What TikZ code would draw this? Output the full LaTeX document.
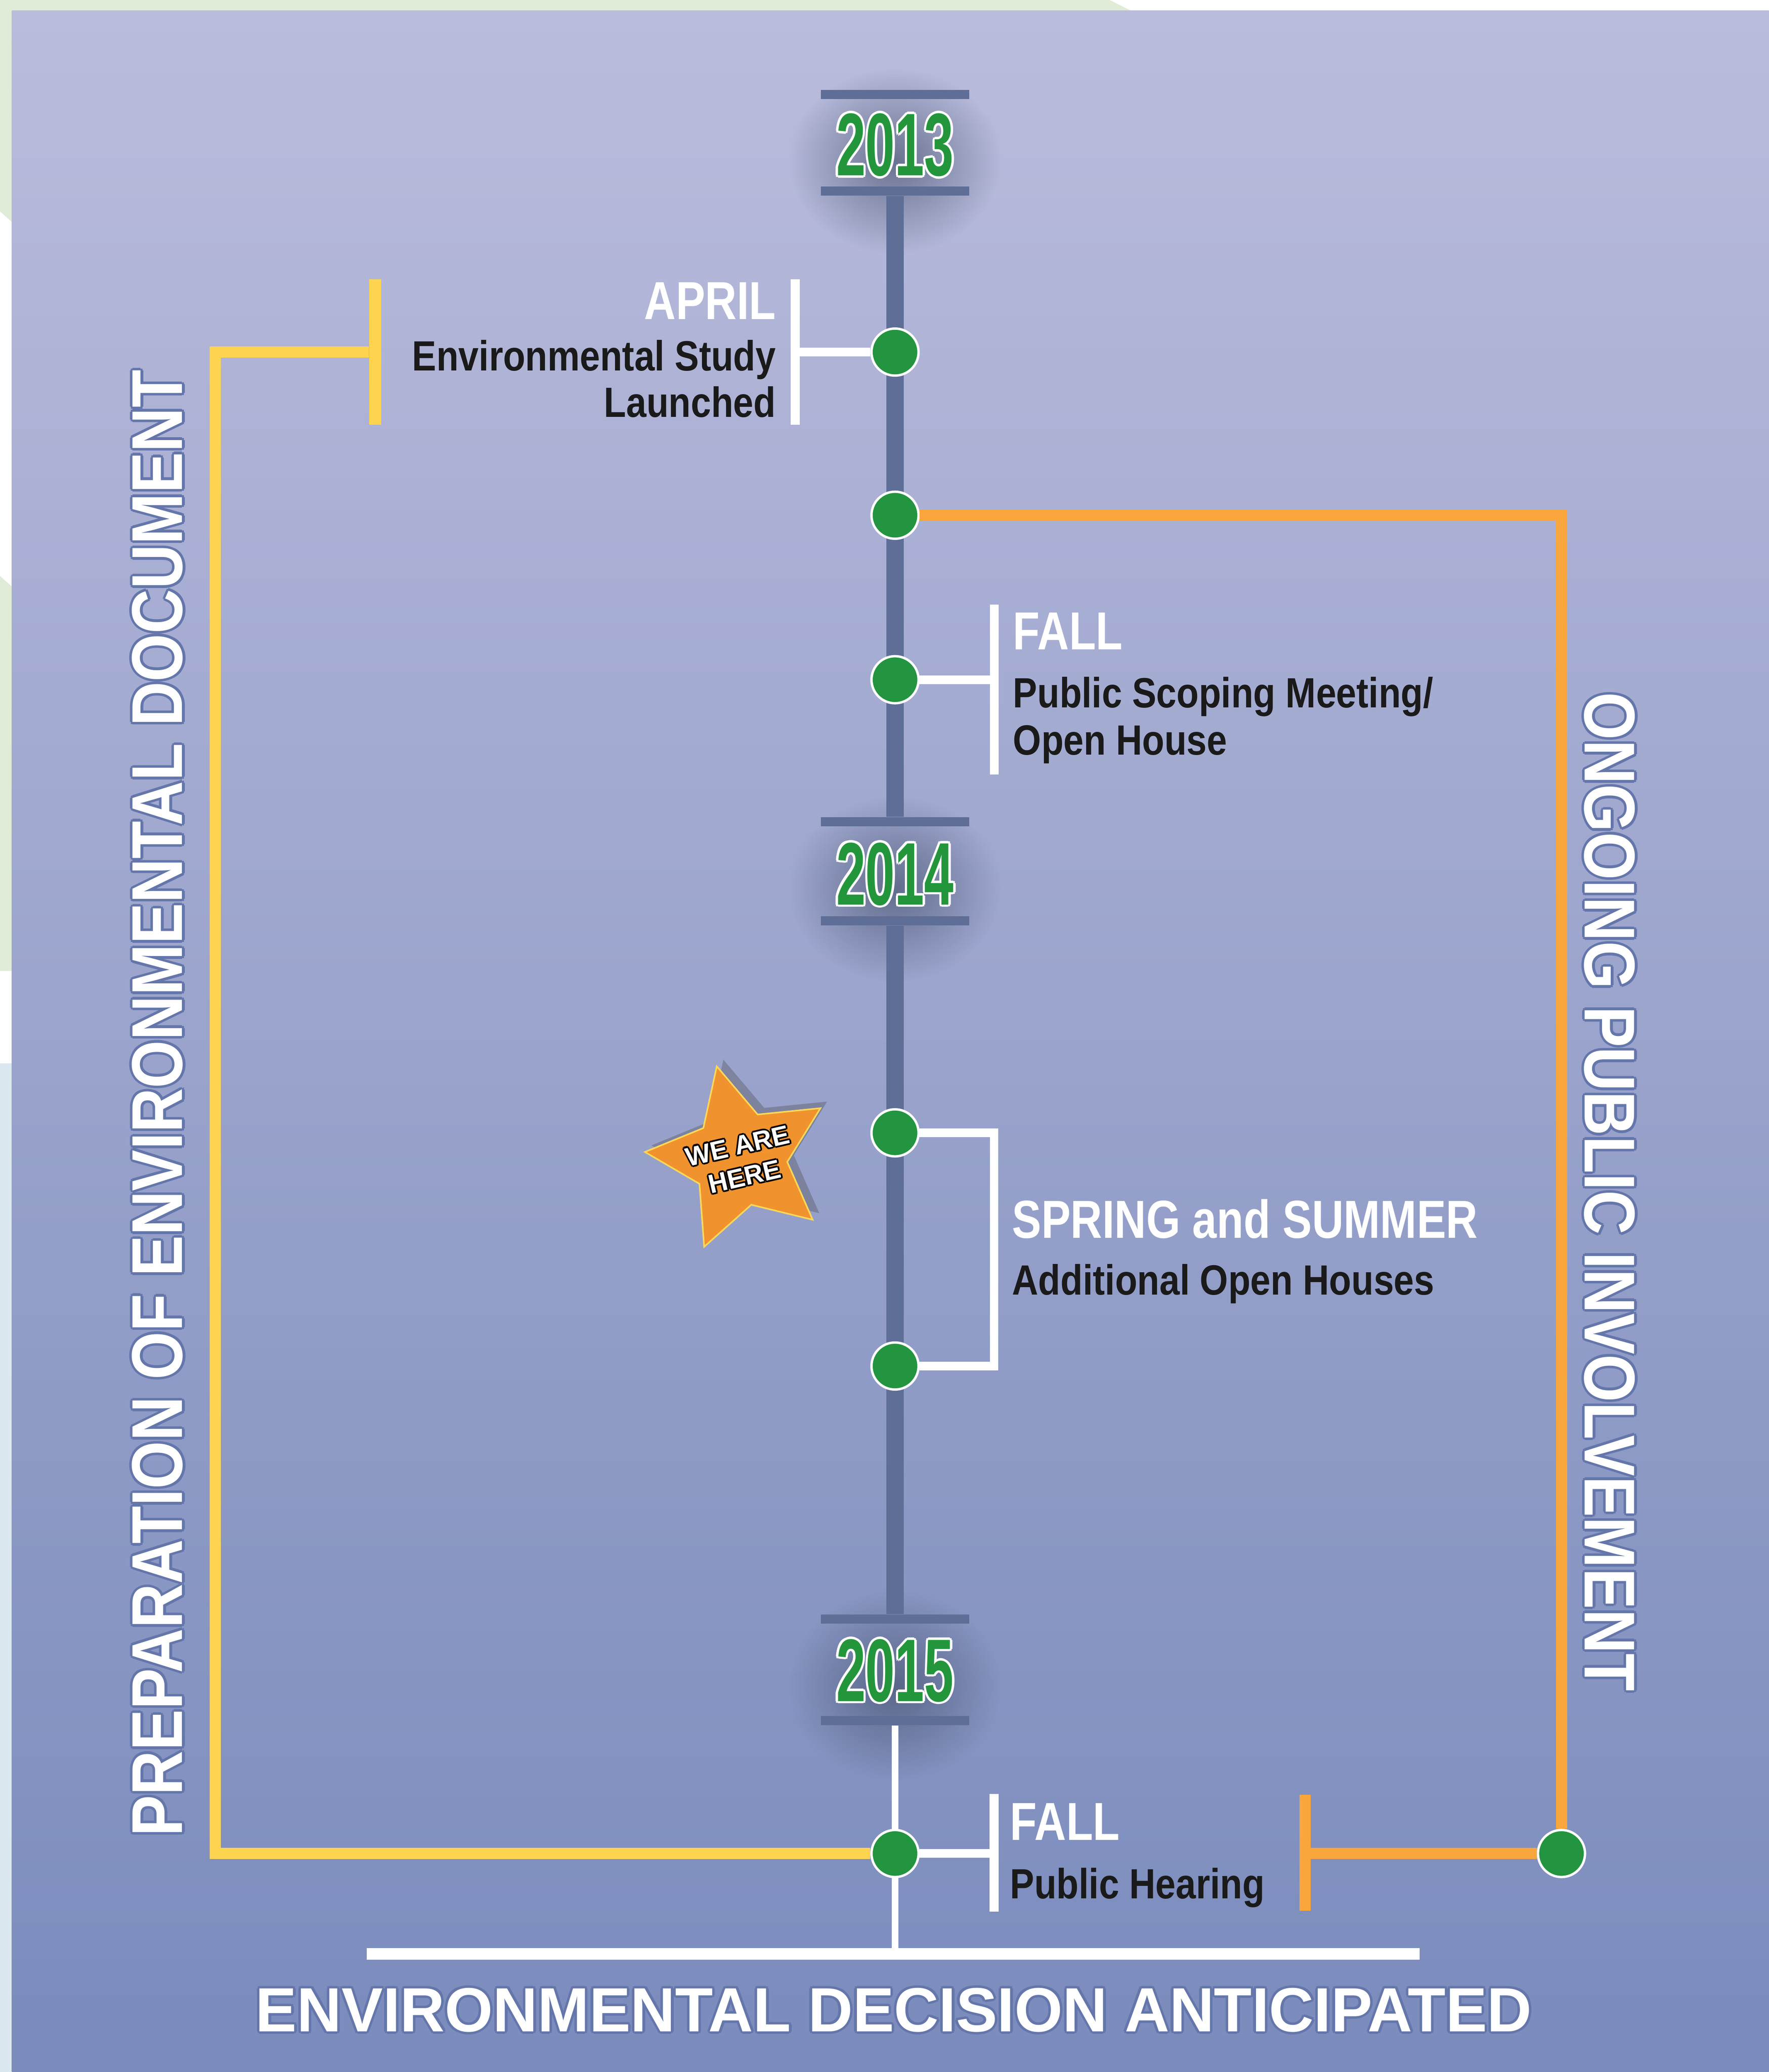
\documentclass[tikz,border=0pt]{standalone}
\usepackage{fontspec}
\setmainfont{Liberation Sans}
\newfontfamily\bodyfont[FakeStretch=0.86]{Liberation Sans}
\newfontfamily\headfont[FakeStretch=0.82]{Liberation Sans}
\newfontfamily\yearfont[FakeStretch=0.62]{Liberation Sans}
\usepackage{graphicx}
\usetikzlibrary{shadows,fadings}

\definecolor{paneltop}{RGB}{186,188,220}
\definecolor{panelbot}{RGB}{122,139,188}
\definecolor{palegreen}{RGB}{224,236,216}
\definecolor{paleblue}{RGB}{220,232,240}
\definecolor{tlblue}{RGB}{94,110,150}
\definecolor{dotgreen}{RGB}{35,148,64}
\definecolor{yeargreen}{RGB}{35,150,60}
\definecolor{docyellow}{RGB}{253,212,80}
\definecolor{pubyellow}{RGB}{249,166,60}
\definecolor{titleedge}{RGB}{100,118,170}
\definecolor{starfill}{RGB}{240,146,45}
\definecolor{staredge}{RGB}{250,215,90}
\definecolor{txtblack}{RGB}{26,26,26}

\tikzfading[name=glowfade, inner color=transparent!35, outer color=transparent!100]

% text with an edge round it: [edge width]{edge colour}{fill colour}{text}
\newlength\olw
\newcommand\outlined[4][1.5pt]{\leavevmode\setlength\olw{#1}%
  \foreach \ox/\oy in {1/0,-1/0,0/1,0/-1,.71/.71,.71/-.71,-.71/.71,-.71/-.71}{%
    \rlap{\color{#2}\kern\ox\olw\raise\oy\olw\hbox{#4}}}%
  {\color{#3}#4}}

\tikzset{
  dot/.style={circle, fill=dotgreen, draw=white, line width=1.8pt, minimum size=35.6pt, inner sep=0pt},
  tick/.style={rectangle, fill=tlblue, minimum width=112.4pt, minimum height=7pt, inner sep=0pt},
  wbar/.style={rectangle, fill=white, minimum width=6.7pt, inner sep=0pt},
  tline/.style={draw=tlblue, line width=13.4pt},
  wline/.style={draw=white, line width=6.5pt},
  yline/.style={draw=docyellow, line width=8.5pt},
  oline/.style={draw=pubyellow, line width=8.5pt},
  head/.style={text=white, inner sep=0pt, font={\headfont\fontsize{40.5}{42}\selectfont\bfseries}},
  body/.style={text=txtblack, inner sep=0pt, font={\bodyfont\fontsize{32}{35}\selectfont\bfseries}},
  glow/.style={fill=tlblue!70!black, path fading=glowfade},
}

\begin{document}
\begin{tikzpicture}[x=1pt,y=1pt,yscale=-1,xscale=1]
\useasboundingbox (0,0) rectangle (1339,1568.4);

%Shape: Background
\fill[white] (0,0) rectangle (1339,1568.4);
\fill[palegreen] (0,0) -- (840,0) -- (856,8) -- (0,8) -- cycle;
\fill[palegreen] (0,0) rectangle (9,160) -- (9,168) -- (0,160) -- cycle;
\fill[palegreen] (0,436) -- (9,444) -- (9,735) -- (0,735) -- cycle;
\fill[paleblue] (0,805) rectangle (9,1568.4);
%Shape: Panel
\shade[top color=paneltop, bottom color=panelbot] (9,8) rectangle (1339,1568.4);

%Shape: Glows behind the years
\fill[glow] (677.5,122) ellipse [x radius=80, y radius=70];
\fill[glow] (677.5,673) ellipse [x radius=80, y radius=70];
\fill[glow] (677.5,1276) ellipse [x radius=80, y radius=72];

%Year ticks
\node[tick] (t13a) at (677.5,71.5) {};
\node[tick] (t13b) at (677.5,144.6) {};
\node[tick] (t14a) at (677.5,622.1) {};
\node[tick] (t14b) at (677.5,697) {};
\node[tick] (t15a) at (677.5,1225.5) {};
\node[tick] (t15b) at (677.5,1302.4) {};
%Bottom bar
\node[wbar, minimum width=797pt, minimum height=9pt] (decbar) at (676,1479) {};

%Timeline
\draw[tline] (t13b) -- (t14a);
\draw[tline] (t14b) -- (t15a);
\draw[draw=white, line width=5pt] (t15b) -- (t15b |- decbar);

%Brackets
\node[wbar, minimum height=110pt] (aprbar) at (602,266.5) {};
\node[wbar, minimum height=128.8pt] (f13bar) at (752.7,521.9) {};
\node[wbar, minimum height=89pt] (f15bar) at (752.5,1402.5) {};
\node[rectangle, fill=docyellow, minimum width=9pt, minimum height=110pt, inner sep=0pt] (ylbar) at (284,266.5) {};
\node[rectangle, fill=pubyellow, minimum width=8.5pt, minimum height=88pt, inner sep=0pt] (orbar) at (988,1402.5) {};
\coordinate (ya) at (163,266.5);
\coordinate (yb) at (163,1403);
\coordinate (orc) at (1182,390);
\coordinate (ssa) at (752.5,857.5);
\coordinate (ssb) at (752.5,1034);

%Dots
\node[dot] (d1) at (677.5,266.5) {};
\node[dot] (d2) at (677.5,390) {};
\node[dot] (d3) at (677.5,514.5) {};
\node[dot] (d4) at (677.5,857.5) {};
\node[dot] (d5) at (677.5,1034) {};
\node[dot] (d6) at (677.5,1403) {};
\node[dot] (d7) at (1182,1403) {};

%Connectors
\draw[wline] (d1) -- (d1 -| aprbar);
\draw[wline] (d3) -- (d3 -| f13bar);
\draw[wline] (d6) -- (d6 -| f15bar);
\draw[wline] (d4) -- (ssa) -- (ssb) -- (d5);
\draw[yline] (ylbar) -- (ya) -- (yb) -- (d6);
\draw[oline] (d2) -- (orc) -- (d7);
\draw[oline] (d7) -- (d7 -| orbar);

% Text Node
\node[inner sep=0pt] (y13) at (677.5,109.7) {\outlined[1.8pt]{white}{yeargreen}{\resizebox{89pt}{47pt}{\yearfont\fontsize{65}{65}\selectfont\bfseries 2013}}};
% Text Node
\node[inner sep=0pt] (y14) at (677.5,661.6) {\outlined[1.8pt]{white}{yeargreen}{\resizebox{89pt}{47pt}{\yearfont\fontsize{65}{65}\selectfont\bfseries 2014}}};
% Text Node
\node[inner sep=0pt] (y15) at (677.5,1264.5) {\outlined[1.8pt]{white}{yeargreen}{\resizebox{89pt}{47pt}{\yearfont\fontsize{65}{65}\selectfont\bfseries 2015}}};

% Text Node
\node[head, anchor=base east] (april) at (587.5,241.7) {APRIL};
\node[body, anchor=base east] (envst) at (587.5,280.5) {Environmental Study};
\node[body, anchor=base east] (launch) at (587.5,315.7) {Launched};
% Text Node
\node[head, anchor=base west] (fall13) at (766.7,491.7) {FALL};
\node[body, anchor=base west] (scop) at (766.7,535.7) {Public Scoping Meeting/};
\node[body, anchor=base west] (openh) at (766.7,571.5) {Open House};
% Text Node
\node[head, anchor=base west] (spsu) at (766,937) {SPRING and SUMMER};
\node[body, anchor=base west] (addoh) at (766,980) {Additional Open Houses};
% Text Node
\node[head, anchor=base west] (fall15) at (764.5,1393) {FALL};
\node[body, anchor=base west] (hear) at (764.5,1437) {Public Hearing};

% Text Node
\node[inner sep=0pt, rotate=90] (prep) at (119.2,835) {\outlined[2pt]{titleedge}{white}{\resizebox{1110pt}{38pt}{\headfont\fontsize{54.5}{56}\selectfont\bfseries PREPARATION OF ENVIRONMENTAL DOCUMENT}}};
% Text Node
\node[inner sep=0pt, rotate=-90] (ongo) at (1218.5,902) {\outlined[2pt]{titleedge}{white}{\resizebox{756pt}{38pt}{\headfont\fontsize{54.5}{56}\selectfont\bfseries ONGOING PUBLIC INVOLVEMENT}}};
% Text Node
\node[inner sep=0pt] (decis) at (676.5,1521.5) {\outlined[2pt]{titleedge}{white}{\resizebox{966pt}{33pt}{\fontsize{47.5}{49}\selectfont\bfseries ENVIRONMENTAL DECISION ANTICIPATED}}};

%Shape: Star
\begin{scope}[shift={(560,877)}]
\fill[starfill, draw=staredge, line width=1.2pt, drop shadow={shadow xshift=5pt, shadow yshift=5pt, opacity=.35, fill=black!70}]
  (-104:72) \foreach \a in {-176,-248,-320,-392} { -- ({\a+36}:36) -- (\a:72) } -- (-68:36) -- cycle;
\end{scope}
% Text Node
\node[inner sep=0pt, rotate=13, align=center, font={\fontsize{20}{24}\selectfont\bfseries}] (here) at (561,879) {\outlined[1.3pt]{black}{white}{WE ARE}\\\outlined[1.3pt]{black}{white}{HERE}};

\end{tikzpicture}
\end{document}
